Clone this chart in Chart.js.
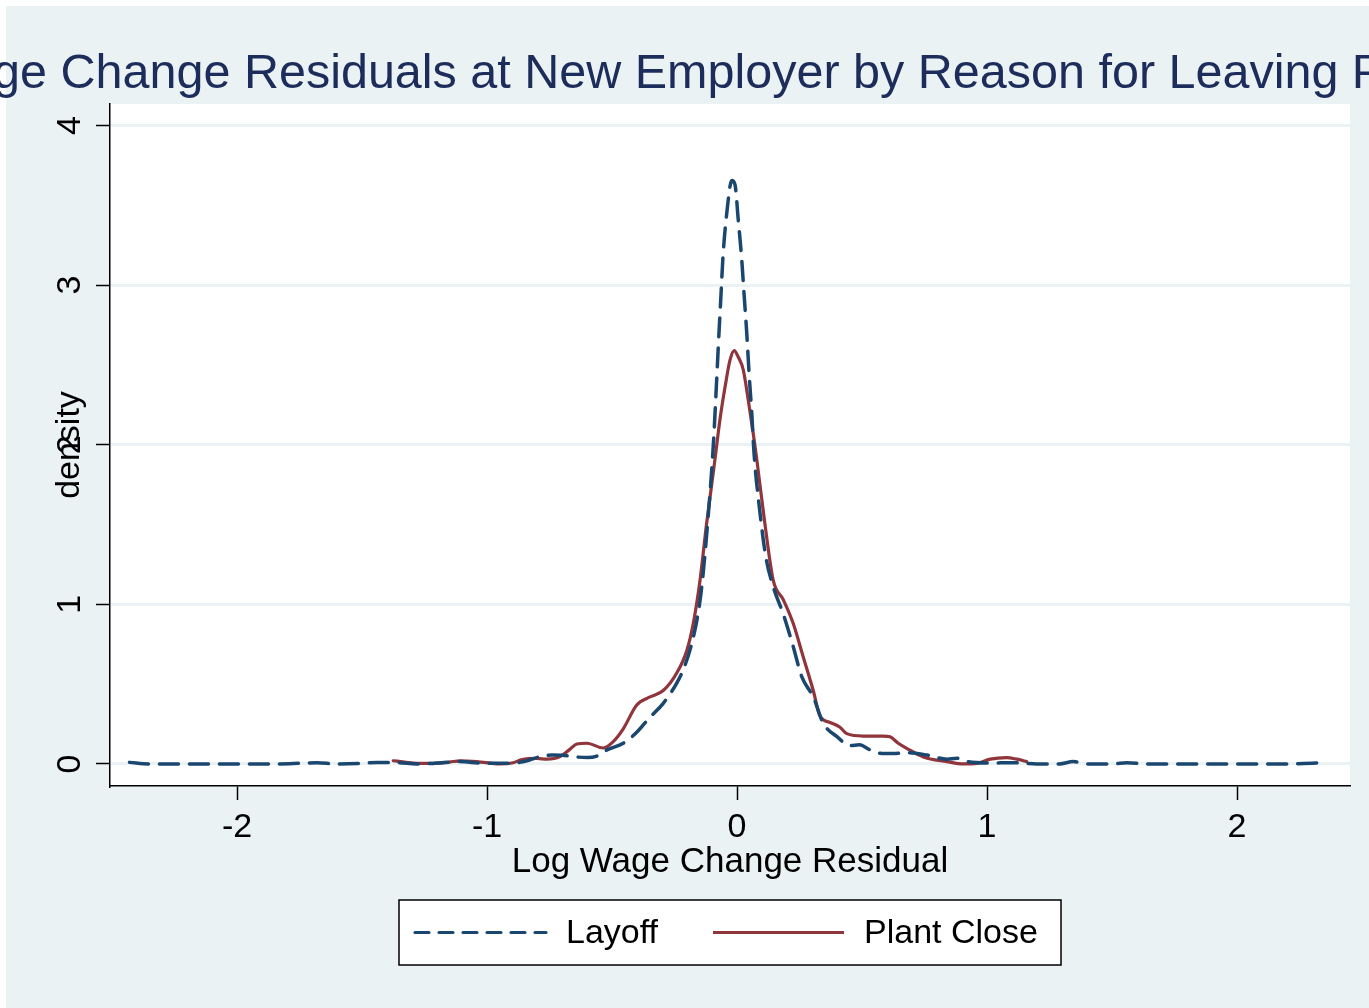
<!DOCTYPE html>
<html><head><meta charset="utf-8">
<script src="https://cdn.jsdelivr.net/npm/chart.js@4/dist/chart.umd.min.js"></script>
<style>html,body{margin:0;padding:0;background:#fff;overflow:hidden;}</style>
</head><body>
<canvas id="c" width="1369" height="1008" style="display:block;width:1369px;height:1008px"></canvas>
<script>
const titleText = "Log Wage Change Residuals at New Employer by Reason for Leaving Previous Job";
const xAxisTitle = "Log Wage Change Residual";
const yAxisTitle = "density";
const seriesNames = ["Layoff", "Plant Close"];
const xTickValues = [-2, -1, 0, 1, 2];
const yTickValues = [0, 1, 2, 3, 4];

const layoffX = [-2.43,-2.35,-2.2,-2.0,-1.85,-1.75,-1.68,-1.6,-1.5,-1.44,-1.35,-1.28,-1.21,-1.11,-1.02,-0.95,-0.87,-0.84,-0.79,-0.74,-0.70,-0.65,-0.60,-0.56,-0.52,-0.455,-0.40,-0.35,-0.295,-0.24,-0.21,-0.18,-0.156,-0.141,-0.118,-0.095,-0.084,-0.075,-0.065,-0.056,-0.041,-0.021,-0.008,0.005,0.019,0.028,0.039,0.049,0.059,0.068,0.09,0.115,0.145,0.185,0.225,0.259,0.305,0.345,0.40,0.452,0.49,0.53,0.572,0.62,0.69,0.76,0.84,0.88,0.92,1.01,1.1,1.2,1.29,1.345,1.40,1.5,1.56,1.64,1.8,2.0,2.2,2.30,2.36];
const layoffY = [0.01,0.0,0.0,0.0,0.0,0.004,0.008,0.0,0.004,0.01,0.008,0.0,0.004,0.015,0.005,0.004,0.01,0.02,0.045,0.056,0.055,0.045,0.04,0.05,0.088,0.13,0.20,0.29,0.38,0.51,0.61,0.76,0.94,1.11,1.5,1.99,2.32,2.61,2.91,3.18,3.45,3.655,3.63,3.41,3.16,2.95,2.70,2.43,2.20,1.95,1.6,1.3,1.11,0.94,0.735,0.547,0.42,0.255,0.171,0.115,0.12,0.09,0.067,0.065,0.071,0.056,0.03,0.036,0.015,0.006,0.008,0.0,0.0,0.015,0.0,0.0,0.008,0.0,0.0,0.0,0.0,0.005,0.008];

const plantX = [-1.375,-1.33,-1.28,-1.215,-1.15,-1.108,-1.041,-0.948,-0.895,-0.86,-0.80,-0.76,-0.708,-0.67,-0.641,-0.60,-0.535,-0.495,-0.455,-0.401,-0.348,-0.295,-0.241,-0.201,-0.175,-0.148,-0.122,-0.088,-0.068,-0.048,-0.028,-0.011,0.005,0.025,0.045,0.065,0.079,0.112,0.145,0.185,0.225,0.265,0.305,0.332,0.372,0.412,0.439,0.505,0.585,0.612,0.645,0.679,0.745,0.839,0.905,0.959,1.012,1.079,1.119,1.159];
const plantY = [0.02,0.012,0.004,0.004,0.012,0.02,0.015,0.0,0.008,0.028,0.035,0.03,0.046,0.09,0.125,0.13,0.10,0.14,0.22,0.37,0.42,0.46,0.57,0.71,0.88,1.15,1.5,1.91,2.16,2.36,2.53,2.59,2.55,2.47,2.28,2.07,1.91,1.5,1.15,1.03,0.88,0.67,0.46,0.30,0.26,0.23,0.19,0.175,0.175,0.17,0.13,0.098,0.044,0.015,0.0,0.004,0.03,0.04,0.03,0.015];

const NAVY = '#1A476F', MAROON = '#90353B', BG = '#EAF2F3', TITLE_COL = '#1C2C5B';
const FONT = 'Liberation Sans, Arial, sans-serif';

const toPts = (xs, ys) => xs.map((x, i) => ({x, y: ys[i]}));

const bgPlugin = {
  id: 'bg',
  beforeDraw(chart) {
    const {ctx, width, height, chartArea: a} = chart;
    ctx.save();
    ctx.fillStyle = '#ffffff';
    ctx.fillRect(0, 0, width, height);
    ctx.fillStyle = BG;
    ctx.fillRect(6, 6, width - 6, height - 6);
    ctx.fillStyle = '#ffffff';
    ctx.fillRect(a.left, a.top, a.right - a.left, a.bottom - a.top);
    ctx.restore();
  }
};

const titlePlugin = {
  id: 'stataTitle',
  afterDraw(chart) {
    const {ctx, chartArea: a} = chart;
    ctx.save();
    ctx.font = '48.5px ' + FONT;
    ctx.fillStyle = TITLE_COL;
    ctx.textAlign = 'center';
    ctx.textBaseline = 'alphabetic';
    ctx.fillText(titleText, (a.left + a.right) / 2, 88);
    ctx.restore();
  }
};

const legendPlugin = {
  id: 'stataLegend',
  afterDraw(chart) {
    const {ctx, chartArea: a} = chart;
    const cx = (a.left + a.right) / 2;
    const w = 662, h = 65, top = 900;
    const left = cx - w / 2;
    ctx.save();
    ctx.fillStyle = '#ffffff';
    ctx.fillRect(left, top, w, h);
    ctx.strokeStyle = '#000000';
    ctx.lineWidth = 1.5;
    ctx.strokeRect(left, top, w, h);
    const cy = top + h / 2;
    const items = chart.data.datasets;
    const offsets = [14, 312];
    items.forEach((ds, i) => {
      const x0 = left + offsets[i];
      ctx.beginPath();
      ctx.strokeStyle = ds.borderColor;
      ctx.lineWidth = 3.2;
      const dashed = ds.borderDash && ds.borderDash.length;
      ctx.lineCap = dashed ? 'round' : 'butt';
      ctx.setLineDash(dashed ? [14, 10] : []);
      ctx.moveTo(x0 + 2, cy);
      ctx.lineTo(x0 + 133, cy);
      ctx.stroke();
      ctx.setLineDash([]);
      ctx.fillStyle = '#000000';
      ctx.font = '34px ' + FONT;
      ctx.textAlign = 'left';
      ctx.textBaseline = 'middle';
      ctx.fillText(ds.label, x0 + 153, cy + 1);
    });
    ctx.restore();
  }
};

new Chart(document.getElementById('c'), {
  type: 'scatter',
  data: {
    datasets: [
      {label: seriesNames[0], data: toPts(layoffX, layoffY), showLine: true, borderColor: NAVY,
       borderWidth: 3.5, borderDash: [19, 11], borderCapStyle: 'round', pointRadius: 0,
       cubicInterpolationMode: 'monotone', fill: false},
      {label: seriesNames[1], data: toPts(plantX, plantY), showLine: true, borderColor: MAROON,
       borderWidth: 3.2, borderCapStyle: 'round', borderJoinStyle: 'round', pointRadius: 0,
       cubicInterpolationMode: 'monotone', fill: false}
    ]
  },
  options: {
    responsive: false,
    animation: false,
    devicePixelRatio: 1,
    layout: {padding: {left: 0, right: 19, top: 104, bottom: 0}},
    plugins: {legend: {display: false}, title: {display: false}, tooltip: {enabled: false}},
    scales: {
      x: {
        type: 'linear', min: -2.508, max: 2.452,
        afterFit: s => { s.height = 222; },
        afterBuildTicks: s => { s.ticks = xTickValues.map(v => ({value: v})); },
        grid: {drawOnChartArea: false, drawTicks: true, tickLength: 14, tickColor: '#000', tickWidth: 1.5},
        border: {display: true, color: '#000', width: 1.5},
        ticks: {font: {family: FONT, size: 34}, color: '#000', padding: 7, maxRotation: 0, minRotation: 0},
        title: {display: true, text: xAxisTitle, font: {family: FONT, size: 35}, color: '#000',
                padding: {top: 0, bottom: 125}}
      },
      y: {
        type: 'linear', min: -0.138, max: 4.135,
        afterFit: s => { s.width = 110; },
        afterBuildTicks: s => { s.ticks = yTickValues.map(v => ({value: v})); },
        grid: {drawOnChartArea: true, color: BG, lineWidth: 3, drawTicks: true, tickLength: 14,
               tickColor: '#000', tickWidth: 1.5},
        border: {display: true, color: '#000', width: 1.5},
        ticks: {font: {family: FONT, size: 34}, color: '#000', padding: 16, minRotation: 90, maxRotation: 90,
                crossAlign: 'center'},
        title: {display: true, text: yAxisTitle, font: {family: FONT, size: 34}, color: '#000',
                padding: {top: 49, bottom: 0}}
      }
    }
  },
  plugins: [bgPlugin, titlePlugin, legendPlugin]
});
</script>
</body></html>
